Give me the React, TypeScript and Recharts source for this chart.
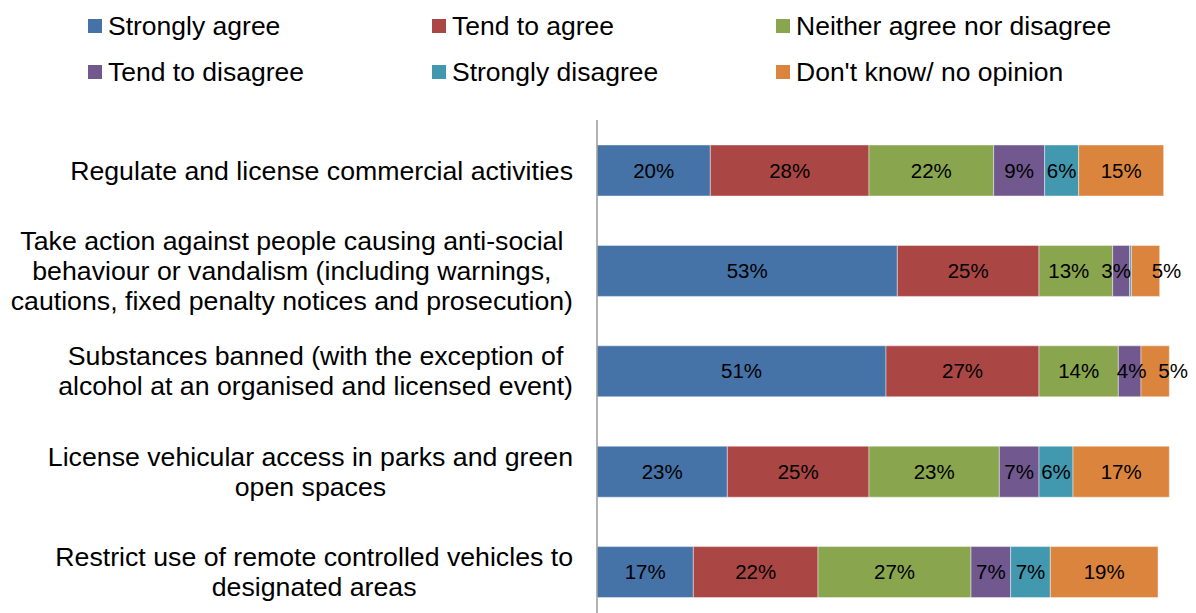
import React from 'react';
import { BarChart, Bar, XAxis, YAxis, LabelList } from 'recharts';

// Statements (tick labels, one entry per wrapped line)
const statementLines: string[][] = [
  ['Regulate and license commercial activities'],
  [
    'Take action against people causing anti-social',
    'behaviour or vandalism (including warnings,',
    'cautions, fixed penalty notices and prosecution)',
  ],
  ['Substances banned (with the exception of', 'alcohol at an organised and licensed event)'],
  ['License vehicular access in parks and green', 'open spaces'],
  ['Restrict use of remote controlled vehicles to', 'designated areas'],
];

// Response shares (%) per statement
const stronglyAgree = [20, 53, 51, 23, 17];
const tendToAgree = [28, 25, 27, 25, 22];
const neitherAgreeNorDisagree = [22, 13, 14, 23, 27];
const tendToDisagree = [9, 3, 4, 7, 7];
const stronglyDisagree = [6, 0.3, 0, 6, 7];
const dontKnow = [15, 5, 5, 17, 19];

const seriesNames = [
  'Strongly agree',
  'Tend to agree',
  'Neither agree nor disagree',
  'Tend to disagree',
  'Strongly disagree',
  "Don't know/ no opinion",
];
const seriesValues = [
  stronglyAgree,
  tendToAgree,
  neitherAgreeNorDisagree,
  tendToDisagree,
  stronglyDisagree,
  dontKnow,
];
const seriesColors = ['#4572A7', '#AA4643', '#89A54E', '#71588F', '#4198AF', '#DB843D'];
const seriesKeys = ['s0', 's1', 's2', 's3', 's4', 's5'];

// Horizontal nudges (px) for crowded value labels, per series and statement
const labelNudges = [
  [0, 0, 0, 0, 0],
  [0, 0, 0, 0, 0],
  [0, -7, 0, 0, 0],
  [0, -5, 2, 0, 0],
  [0, 0, 0, 0, 0],
  [0, 21, 18, 0, 0],
];

const data = statementLines.map((lines, i) => {
  const row: Record<string, string | number> = { name: lines.join(' '), idx: i };
  seriesKeys.forEach((k, s) => {
    row[k] = seriesValues[s][i];
  });
  return row;
});

const FONT = '"Liberation Sans", Arial, sans-serif';
const TICK_SIZE = 26.7;

let measureCtx: CanvasRenderingContext2D | null = null;
const measure = (s: string) => {
  if (!measureCtx) {
    const c = document.createElement('canvas');
    measureCtx = c.getContext('2d');
  }
  if (!measureCtx) return s.length * TICK_SIZE * 0.5;
  measureCtx.font = `${TICK_SIZE}px "Liberation Sans", Arial, sans-serif`;
  return measureCtx.measureText(s).width;
};

// Wrapped statement label: lines centred within a block whose right edge sits by the axis
const StatementTick = (props: any) => {
  const { x, y, payload } = props;
  const lines = statementLines[payload.index] || [];
  const lh = 30;
  const right = x - 16;
  const blockW = Math.max(...lines.map(measure));
  const cx = right - blockW / 2;
  const start = -((lines.length - 1) * lh) / 2;
  return (
    <text x={cx} y={y} textAnchor="middle" fontFamily={FONT} fontSize={TICK_SIZE} fill="#000">
      {lines.map((l, i) => (
        <tspan key={i} x={cx} y={y + start + i * lh} dy="0.35em">
          {l}
        </tspan>
      ))}
    </text>
  );
};

const pct = (v: any) => (typeof v === 'number' && v >= 1 ? `${Math.round(v)}%` : '');

const makeValueLabel = (s: number) => (p: any) => {
  const { x, y, width, height, value, index } = p;
  const txt = pct(value);
  if (!txt) return null;
  const nudge = (labelNudges[s] && labelNudges[s][index]) || 0;
  return (
    <text
      x={Number(x) + Number(width) / 2 + nudge}
      y={Number(y) + Number(height) / 2}
      dy="0.35em"
      textAnchor="middle"
      fontFamily={FONT}
      fontSize={20.5}
      fill="#000"
    >
      {txt}
    </text>
  );
};

const legendCols = [80, 424, 768];
const legendRows = [18, 64];

export default function App() {
  return (
    <div style={{ position: 'relative', width: 1188, height: 605, overflow: 'hidden', fontFamily: FONT }}>
      {seriesNames.map((name, i) => (
        <div
          key={name}
          style={{
            position: 'absolute',
            left: legendCols[i % 3],
            top: legendRows[Math.floor(i / 3)] - 15,
            height: 30,
            display: 'flex',
            alignItems: 'center',
            fontSize: 26.5,
            color: '#000',
            whiteSpace: 'nowrap',
          }}
        >
          <span
            style={{
              display: 'inline-block',
              width: 14,
              height: 14,
              background: seriesColors[i],
              marginRight: 6,
            }}
          />
          <span>{name}</span>
        </div>
      ))}
      <BarChart
        layout="vertical"
        width={1188}
        height={620}
        data={data}
        margin={{ top: 112, right: 4, bottom: 6, left: 0 }}
        barSize={51}
      >
        <XAxis type="number" domain={[0, 105]} hide />
        <YAxis
          type="category"
          dataKey="name"
          width={589}
          interval={0}
          tickLine={false}
          axisLine={{ stroke: '#9a9a9a', strokeWidth: 1.5 }}
          tick={<StatementTick />}
        />
        {seriesKeys.map((k, i) => (
          <Bar
            key={k}
            dataKey={k}
            name={seriesNames[i]}
            stackId="a"
            fill={seriesColors[i]}
            stroke="rgba(255,255,255,0.55)"
            strokeWidth={0.8}
            isAnimationActive={false}
          >
            <LabelList dataKey={k} content={makeValueLabel(i)} />
          </Bar>
        ))}
      </BarChart>
    </div>
  );
}
